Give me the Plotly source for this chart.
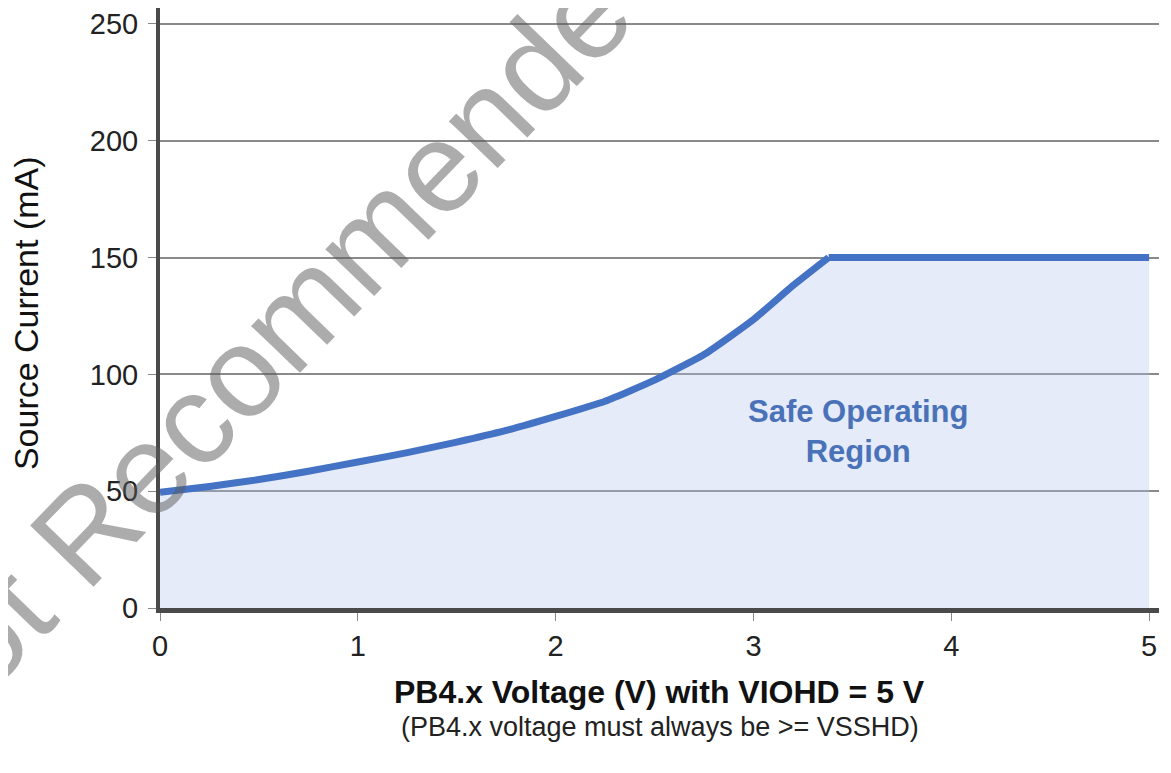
import plotly.graph_objects as go

# Data
voltage = [0, 0.25, 0.5, 0.75, 1.0, 1.25, 1.5, 1.75, 2.0, 2.25, 2.5, 2.75, 3.0, 3.2, 3.38, 5.0]
current = [49.5, 52, 55, 58.5, 62.5, 66.5, 71, 76, 82, 88.5, 97.5, 108.5, 123.5, 138, 150, 150]
knee_index = 14  # where the curve reaches the 150 mA limit

x_ticks = [0, 1, 2, 3, 4, 5]
y_ticks = [0, 50, 100, 150, 200, 250]

FONT = "Arial, Liberation Sans, sans-serif"
LINE_BLUE = "#4472c4"

fig = go.Figure()
# shaded safe operating area
fig.add_trace(go.Scatter(
    x=voltage, y=current, mode="lines",
    line=dict(width=0, color=LINE_BLUE),
    fill="tozeroy", fillcolor="rgba(175,195,235,0.33)",
    hoverinfo="skip", showlegend=False,
))
# smooth rising part
fig.add_trace(go.Scatter(
    x=voltage[:knee_index + 1], y=current[:knee_index + 1], mode="lines",
    line=dict(color=LINE_BLUE, width=7, shape="spline", smoothing=0.5),
    hoverinfo="skip", showlegend=False,
))
# flat limit part
fig.add_trace(go.Scatter(
    x=voltage[knee_index:], y=current[knee_index:], mode="lines",
    line=dict(color=LINE_BLUE, width=7),
    hoverinfo="skip", showlegend=False,
))

fig.add_annotation(
    x=0.4525, y=1.038, xref="paper", yref="paper",
    text="Not Recommended for New Designs", showarrow=False,
    textangle=-46, font=dict(family=FONT, size=128, color="rgba(90,90,90,0.5)"),
    xanchor="center", yanchor="middle",
)

fig.add_annotation(
    x=3.53, y=75.5, xref="x", yref="y",
    text="<b>Safe Operating<br>Region</b>", showarrow=False,
    font=dict(family=FONT, size=31, color="#4a72b8"),
    align="center", xanchor="center", yanchor="middle",
)

fig.add_annotation(
    x=0.5, y=-0.14, xref="paper", yref="paper",
    text="<b>PB4.x Voltage (V) with VIOHD = 5 V</b>", showarrow=False,
    font=dict(family=FONT, size=32, color="#111111"),
    xanchor="center", yanchor="middle",
)
fig.add_annotation(
    x=0.5, y=-0.198, xref="paper", yref="paper",
    text="(PB4.x voltage must always be >= VSSHD)", showarrow=False,
    font=dict(family=FONT, size=27, color="#222222"),
    xanchor="center", yanchor="middle",
)
fig.add_annotation(
    x=-0.134, y=0.4917, xref="paper", yref="paper",
    text="Source Current (mA)", showarrow=False, textangle=-90,
    font=dict(family=FONT, size=34, color="#111111"),
    xanchor="center", yanchor="middle",
)

fig.update_xaxes(
    range=[0, 5.05], tickvals=x_ticks, ticktext=[str(v) for v in x_ticks],
    showgrid=False, zeroline=False, automargin=False,
    showline=True, linecolor="#4a4a4a", linewidth=5,
    ticks="outside", ticklen=8, tickwidth=1, tickcolor="#888888",
    tickfont=dict(family=FONT, size=29, color="#222222"),
)
fig.update_yaxes(
    range=[0, 256.8], tickvals=y_ticks, ticktext=[str(v) for v in y_ticks],
    showgrid=True, gridcolor="#8a8a8a", gridwidth=2, zeroline=False, automargin=False,
    showline=True, linecolor="#4a4a4a", linewidth=4,
    ticks="outside", ticklen=8, tickwidth=1, tickcolor="#888888",
    ticklabelstandoff=4,
    tickfont=dict(family=FONT, size=29, color="#222222"),
)

fig.update_layout(
    width=1171, height=773,
    margin=dict(l=152, r=20, t=0, b=173),
    plot_bgcolor="white", paper_bgcolor="white",
)

fig.write_html("out.html")
